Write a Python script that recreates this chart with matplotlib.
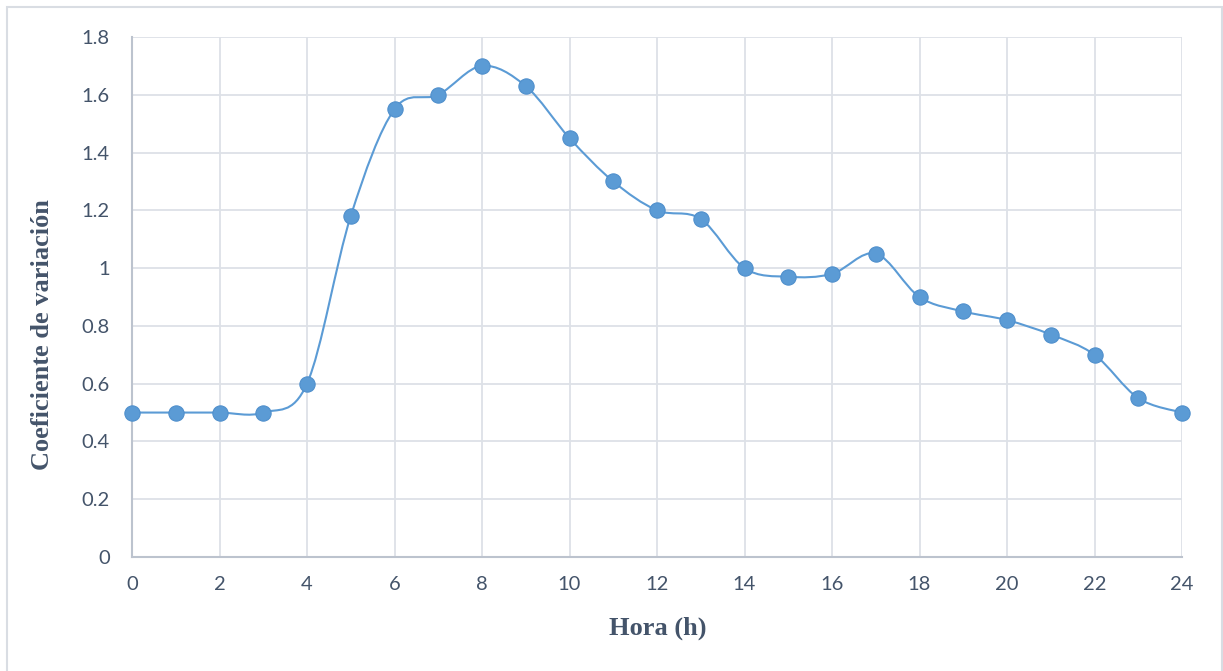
import matplotlib.pyplot as plt
import numpy as np
from matplotlib.patches import PathPatch, Rectangle
from matplotlib.path import Path

plt.rcParams["font.family"] = ["Lato", "DejaVu Sans"]

hours = list(range(25))
coef_variacion = [
    0.50, 0.50, 0.50, 0.50, 0.60, 1.18, 1.55, 1.60, 1.70, 1.63, 1.45, 1.30, 1.20,
    1.17, 1.00, 0.97, 0.98, 1.05, 0.90, 0.85, 0.82, 0.77, 0.70, 0.55, 0.50,
]
y_ticks = [0, 0.2, 0.4, 0.6, 0.8, 1, 1.2, 1.4, 1.6, 1.8]
y_tick_labels = ["0", "0.2", "0.4", "0.6", "0.8", "1", "1.2", "1.4", "1.6", "1.8"]
x_ticks = list(range(0, 25, 2))

LINE_COLOR = "#5b9bd5"
TEXT_COLOR = "#44546a"
GRID_COLOR = "#dde1e7"
SPINE_COLOR = "#bcc3ce"


def smooth_path(x, y):
    # spreadsheet-style smoothing: cubic Bezier through every point,
    # control points from neighbouring points (Catmull-Rom, 1/6 tension)
    pts = np.column_stack([x, y]).astype(float)
    n = len(pts)
    verts = [pts[0]]
    codes = [Path.MOVETO]
    for i in range(n - 1):
        p0 = pts[i - 1] if i > 0 else pts[i]
        p1 = pts[i]
        p2 = pts[i + 1]
        p3 = pts[i + 2] if i + 2 < n else pts[i + 1]
        c1 = p1 + (p2 - p0) / 6.0
        c2 = p2 - (p3 - p1) / 6.0
        verts += [c1, c2, p2]
        codes += [Path.CURVE4] * 3
    return Path(verts, codes)


fig = plt.figure(figsize=(12.23, 6.71), dpi=100)
ax = fig.add_axes([132 / 1223, 1 - 557 / 671, 1050 / 1223, 520 / 671])

# outer chart border
fig.patches.append(
    Rectangle((7 / 1223, -0.01), 1215 / 1223, 1 - 7 / 671 + 0.01,
              transform=fig.transFigure, fill=False,
              edgecolor="#d9dde3", linewidth=1.5)
)

ax.add_patch(PathPatch(smooth_path(hours, coef_variacion), facecolor="none",
                       edgecolor=LINE_COLOR, linewidth=1.5, zorder=3))
ax.plot(hours, coef_variacion, linestyle="none", marker="o", markersize=11,
        markerfacecolor=LINE_COLOR, markeredgecolor="#4f8fcc",
        markeredgewidth=0.8, zorder=4, clip_on=False)

ax.set_xlim(0, 24)
ax.set_ylim(0, 1.8)
ax.set_xticks(x_ticks)
ax.set_yticks(y_ticks)
ax.set_yticklabels(y_tick_labels)
ax.grid(True, color=GRID_COLOR, linewidth=1.3)
ax.set_axisbelow(True)

for side in ["top", "right"]:
    ax.spines[side].set_visible(False)
for side in ["left", "bottom"]:
    ax.spines[side].set_color(SPINE_COLOR)
    ax.spines[side].set_linewidth(1.5)

ax.tick_params(axis="both", length=0, labelsize=14.5, labelcolor=TEXT_COLOR)
ax.tick_params(axis="x", pad=14)
ax.tick_params(axis="y", pad=16)

label_font = dict(family=["Liberation Serif", "DejaVu Serif"], fontsize=19,
                  fontweight="bold", color=TEXT_COLOR)
ax.set_xlabel("Hora (h)", **label_font)
ax.set_ylabel("Coeficiente de variación", **label_font)
ax.xaxis.set_label_coords(0.501, -0.1365)
ax.yaxis.set_label_coords(-0.0857, 0.427)
ax.xaxis.label.set_va("center")
ax.yaxis.label.set_va("center")

fig.savefig("out.png", dpi=100)
